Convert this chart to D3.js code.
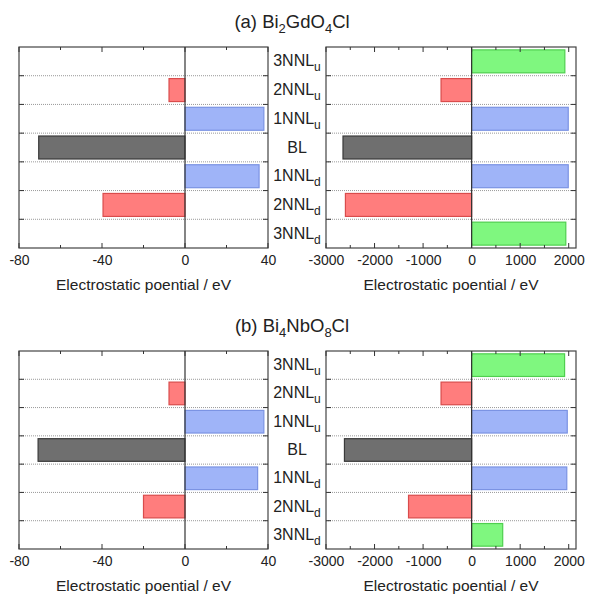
<!DOCTYPE html>
<html>
<head>
<meta charset="utf-8">
<script src="https://cdn.jsdelivr.net/npm/d3@7"></script>
<style>
  body { margin: 0; background: #fff; }
  text { font-family: "Liberation Sans", Arial, sans-serif; fill: #222; }
</style>
</head>
<body>
<svg id="chart" width="589" height="597"></svg>
<script>
// row order, top to bottom
var rows = ["3NNL_u", "2NNL_u", "1NNL_u", "BL", "1NNL_d", "2NNL_d", "3NNL_d"];
var rowColors = ["green", "red", "blue", "gray", "blue", "red", "green"];

// (a) Bi2GdO4Cl
var aLeft = [null, -7.7, 38, -70.5, 35.7, -39.5, null];
var aRight = [1920, -630, 1990, -2650, 1990, -2600, 1940];
// (b) Bi4NbO8Cl
var bLeft = [null, -7.7, 38, -70.8, 35, -20, null];
var bRight = [1915, -630, 1970, -2620, 1960, -1300, 640];

var leftTicks = [-80, -40, 0, 40];
var rightTicks = [-3000, -2000, -1000, 0, 1000, 2000];

var palette = {
  green: {fill: "#7ff77f", stroke: "#4fcf4f"},
  red:   {fill: "#ff7d7d", stroke: "#d94c4c"},
  blue:  {fill: "#9fb4f8", stroke: "#7b93e3"},
  gray:  {fill: "#6f6f6f", stroke: "#3a3a3a"}
};

var svg = d3.select("#chart");

function drawPlot(g, values, domain, range, ticks, minorStep, top, bottom) {
  var x = d3.scaleLinear().domain(domain).range(range);
  var y = d3.scaleBand().domain(rows).range([top, bottom]).paddingInner(0.2).paddingOuter(0.1);
  var rowH = (bottom - top) / rows.length;

  // dotted row separators
  for (var i = 1; i < rows.length; i++) {
    var yy = top + i * rowH;
    g.append("line")
      .attr("x1", range[0]).attr("x2", range[1])
      .attr("y1", yy).attr("y2", yy)
      .attr("stroke", "#999").attr("stroke-width", 1)
      .attr("stroke-dasharray", "1,1");
    // side ticks
    g.append("line").attr("x1", range[0]).attr("x2", range[0] + 5)
      .attr("y1", yy).attr("y2", yy).attr("stroke", "#333");
    g.append("line").attr("x1", range[1]).attr("x2", range[1] - 5)
      .attr("y1", yy).attr("y2", yy).attr("stroke", "#333");
  }

  // bars
  rows.forEach(function(r, i) {
    var v = values[i];
    if (v === null) return;
    var c = palette[rowColors[i]];
    g.append("rect")
      .attr("x", x(Math.min(0, v)))
      .attr("y", y(r))
      .attr("width", Math.abs(x(v) - x(0)))
      .attr("height", y.bandwidth())
      .attr("fill", c.fill)
      .attr("stroke", c.stroke)
      .attr("stroke-width", 1.2);
  });

  // zero line
  g.append("line")
    .attr("x1", x(0)).attr("x2", x(0))
    .attr("y1", top).attr("y2", bottom)
    .attr("stroke", "#333").attr("stroke-width", 1.2);

  // frame
  g.append("rect")
    .attr("x", range[0]).attr("y", top)
    .attr("width", range[1] - range[0]).attr("height", bottom - top)
    .attr("fill", "none").attr("stroke", "#444").attr("stroke-width", 1.2);

  // ticks inward (top and bottom)
  var minor = d3.range(domain[0], domain[1] + 1e-9, minorStep);
  minor.forEach(function(t) {
    var major = ticks.indexOf(t) >= 0;
    var len = major ? 5 : 3;
    g.append("line").attr("x1", x(t)).attr("x2", x(t))
      .attr("y1", bottom).attr("y2", bottom - len).attr("stroke", "#333");
    g.append("line").attr("x1", x(t)).attr("x2", x(t))
      .attr("y1", top).attr("y2", top + len).attr("stroke", "#333");
  });

  var axis = d3.axisBottom(x).tickValues(ticks).tickSize(0).tickPadding(7)
    .tickFormat(function(d) { return String(d); });
  var ax = g.append("g").attr("transform", "translate(0," + bottom + ")").call(axis);
  ax.select(".domain").remove();
  ax.selectAll("text").attr("font-size", 14).attr("fill", "#222")
    .attr("font-family", "Liberation Sans, Arial, sans-serif");

  // axis title: taller glyphs squeezed to the reference width
  g.append("text")
    .attr("x", (range[0] + range[1]) / 2)
    .attr("y", bottom + 42)
    .attr("text-anchor", "middle")
    .attr("font-size", 15)
    .attr("textLength", 175)
    .attr("lengthAdjust", "spacingAndGlyphs")
    .text("Electrostatic poential / eV");
}

function drawRowLabels(g, top, bottom) {
  var y = d3.scaleBand().domain(rows).range([top, bottom]);
  rows.forEach(function(r) {
    var t = g.append("text")
      .attr("x", 297)
      .attr("y", y(r) + y.bandwidth() / 2 + 5)
      .attr("text-anchor", "middle")
      .attr("font-size", 16);
    var parts = r.split("_");
    t.append("tspan").text(parts[0]);
    if (parts[1]) {
      t.append("tspan").attr("font-size", 12).attr("dy", 5).text(parts[1]);
    }
  });
}

function drawTitle(g, yPos, pre, parts) {
  var t = g.append("text").attr("x", 292).attr("y", yPos)
    .attr("text-anchor", "middle").attr("font-size", 18.5);
  t.append("tspan").text(pre);
  parts.forEach(function(p) {
    if (p.sub) {
      t.append("tspan").attr("font-size", 13).attr("dy", 5).text(p.t);
    } else {
      t.append("tspan").attr("dy", p.back ? -5 : 0).text(p.t);
    }
  });
}

function drawPanel(values1, values2, top, bottom) {
  var g = svg.append("g");
  drawPlot(g, values1, [-80, 40], [19, 268], leftTicks, 20, top, bottom);
  drawPlot(g, values2, [-3000, 2150], [326, 576], rightTicks, 500, top, bottom);
  drawRowLabels(g, top, bottom);
}

drawTitle(svg, 28, "(a) Bi", [{t: "2", sub: true}, {t: "GdO", back: true}, {t: "4", sub: true}, {t: "Cl", back: true}]);
drawPanel(aLeft, aRight, 47, 248);

drawTitle(svg, 332, "(b) Bi", [{t: "4", sub: true}, {t: "NbO", back: true}, {t: "8", sub: true}, {t: "Cl", back: true}]);
drawPanel(bLeft, bRight, 351, 549);
</script>
</body>
</html>
